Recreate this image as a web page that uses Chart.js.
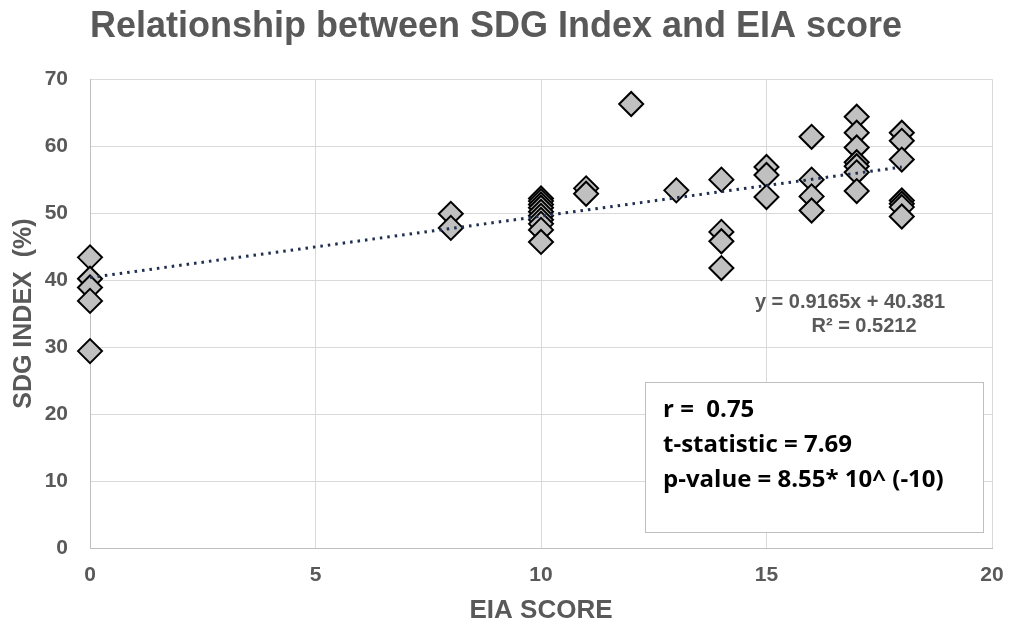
<!DOCTYPE html>
<html>
<head>
<meta charset="utf-8">
<script src="https://cdn.jsdelivr.net/npm/chart.js@4"></script>
<style>
  html, body { margin: 0; padding: 0; background: #ffffff; }
  #wrap { width: 1011px; height: 626px; position: relative; }
</style>
</head>
<body>
<div id="wrap"><canvas id="c" width="1011" height="626"></canvas></div>
<script>
// ---- data ----
const eiaScore = [
  0, 0, 0, 0, 0,
  8, 8,
  10, 10, 10, 10, 10, 10, 10, 10, 10, 10,
  11, 11,
  12,
  13,
  14, 14, 14, 14,
  15, 15, 15,
  16, 16, 16, 16,
  17, 17, 17, 17, 17, 17, 17,
  18, 18, 18, 18, 18, 18, 18
];
const sdgIndex = [
  43.4, 40.2, 38.9, 36.9, 29.4,
  49.9, 47.8,
  52.2, 51.8, 51.3, 50.8, 50.2, 49.6, 49.0, 48.4, 47.5, 45.7,
  53.7, 52.9,
  66.3,
  53.4,
  55.0, 47.2, 45.8, 41.8,
  56.9, 55.7, 52.4,
  61.4, 55.0, 52.5, 50.4,
  64.4, 62.0, 59.8, 57.6, 57.0, 56.1, 53.3,
  62.0, 60.8, 58.0, 51.9, 51.4, 50.9, 49.5
];
const trendX = [0, 18];
const trendY = [40.38, 56.88];
const xTicks = [0, 5, 10, 15, 20];
const yTicks = [0, 10, 20, 30, 40, 50, 60, 70];
const titleText = 'Relationship between SDG Index and EIA score';
const xTitle = 'EIA SCORE';
const yTitle = 'SDG INDEX  (%)';
const equationLines = ['y = 0.9165x + 40.381', 'R\u00B2 = 0.5212'];
const statsLines = ['r =  0.75', 't-statistic = 7.69', 'p-value = 8.55* 10^ (-10)'];

const GREY = '#595959';
const FONT = "'Liberation Sans', Arial, sans-serif";

const scatterPts = eiaScore.map((x, i) => ({ x: x, y: sdgIndex[i] }));
const trendPts = trendX.map((x, i) => ({ x: x, y: trendY[i] }));

const annotations = {
  id: 'annotations',
  afterDatasetsDraw(chart) {
    const ctx = chart.ctx;
    ctx.save();
    // regression equation
    ctx.fillStyle = GREY;
    ctx.font = "bold 20px " + FONT;
    ctx.textAlign = 'center';
    ctx.textBaseline = 'middle';
    ctx.fillText(equationLines[0], 850, 302);
    ctx.fillText(equationLines[1], 864, 326);
    // stats box
    ctx.fillStyle = '#ffffff';
    ctx.fillRect(645.5, 382.5, 338, 150);
    ctx.strokeStyle = '#bfbfbf';
    ctx.lineWidth = 1;
    ctx.strokeRect(645.5, 382.5, 338, 150);
    ctx.fillStyle = '#000000';
    ctx.font = "bold 24px 'Open Sans', Lato, sans-serif";
    ctx.textAlign = 'left';
    ctx.fillText(statsLines[0], 663, 410);
    ctx.fillText(statsLines[1], 663, 445);
    ctx.fillText(statsLines[2], 663, 480);
    ctx.restore();
  }
};

new Chart(document.getElementById('c'), {
  type: 'scatter',
  data: {
    datasets: [
      {
        type: 'line',
        label: 'Trend',
        data: trendPts,
        borderColor: '#1f2f4f',
        borderWidth: 3,
        borderDash: [2.5, 5],
        pointRadius: 0,
        fill: false,
        clip: false,
        order: 1
      },
      {
        label: 'SDG Index',
        data: scatterPts,
        pointStyle: 'rectRot',
        pointRadius: 12,
        pointHoverRadius: 12,
        backgroundColor: '#c0c0c0',
        borderColor: '#000000',
        borderWidth: 2,
        clip: false,
        order: 2
      }
    ]
  },
  plugins: [annotations],
  options: {
    responsive: false,
    animation: false,
    devicePixelRatio: 1,
    layout: { padding: { left: 0, right: 19, top: 0, bottom: 0 } },
    plugins: {
      legend: { display: false },
      tooltip: { enabled: false },
      title: {
        display: true,
        text: titleText,
        color: GREY,
        font: { family: FONT, size: 36, weight: 'bold', lineHeight: 1.2 },
        padding: { top: 5, bottom: 31 }
      }
    },
    scales: {
      x: {
        type: 'linear',
        min: 0, max: 20,
        afterBuildTicks(scale) { scale.ticks = xTicks.map(v => ({ value: v })); },
        afterFit(scale) { scale.height = 78; scale.paddingLeft = 0; scale.paddingRight = 0; },
        grid: { color: '#d9d9d9', lineWidth: 1, drawTicks: false },
        border: { color: '#bfbfbf', width: 1 },
        ticks: { color: GREY, padding: 15, font: { family: FONT, size: 21, weight: 'bold' } },
        title: {
          display: true, text: xTitle, color: GREY,
          font: { family: FONT, size: 26, weight: 'bold', lineHeight: 1.2 },
          padding: { top: 0, bottom: 0 }
        }
      },
      y: {
        type: 'linear',
        min: 0, max: 70,
        afterBuildTicks(scale) { scale.ticks = yTicks.map(v => ({ value: v })); },
        afterFit(scale) { scale.width = 90; scale.paddingTop = 0; scale.paddingBottom = 0; },
        grid: { color: '#d9d9d9', lineWidth: 1, drawTicks: false },
        border: { color: '#bfbfbf', width: 1 },
        ticks: { color: GREY, padding: 22, font: { family: FONT, size: 21, weight: 'bold' } },
        title: {
          display: true, text: yTitle, color: GREY,
          font: { family: FONT, size: 25, weight: 'bold', lineHeight: 1.2 },
          padding: { top: 9, bottom: 0 }
        }
      }
    }
  }
});
</script>
</body>
</html>
